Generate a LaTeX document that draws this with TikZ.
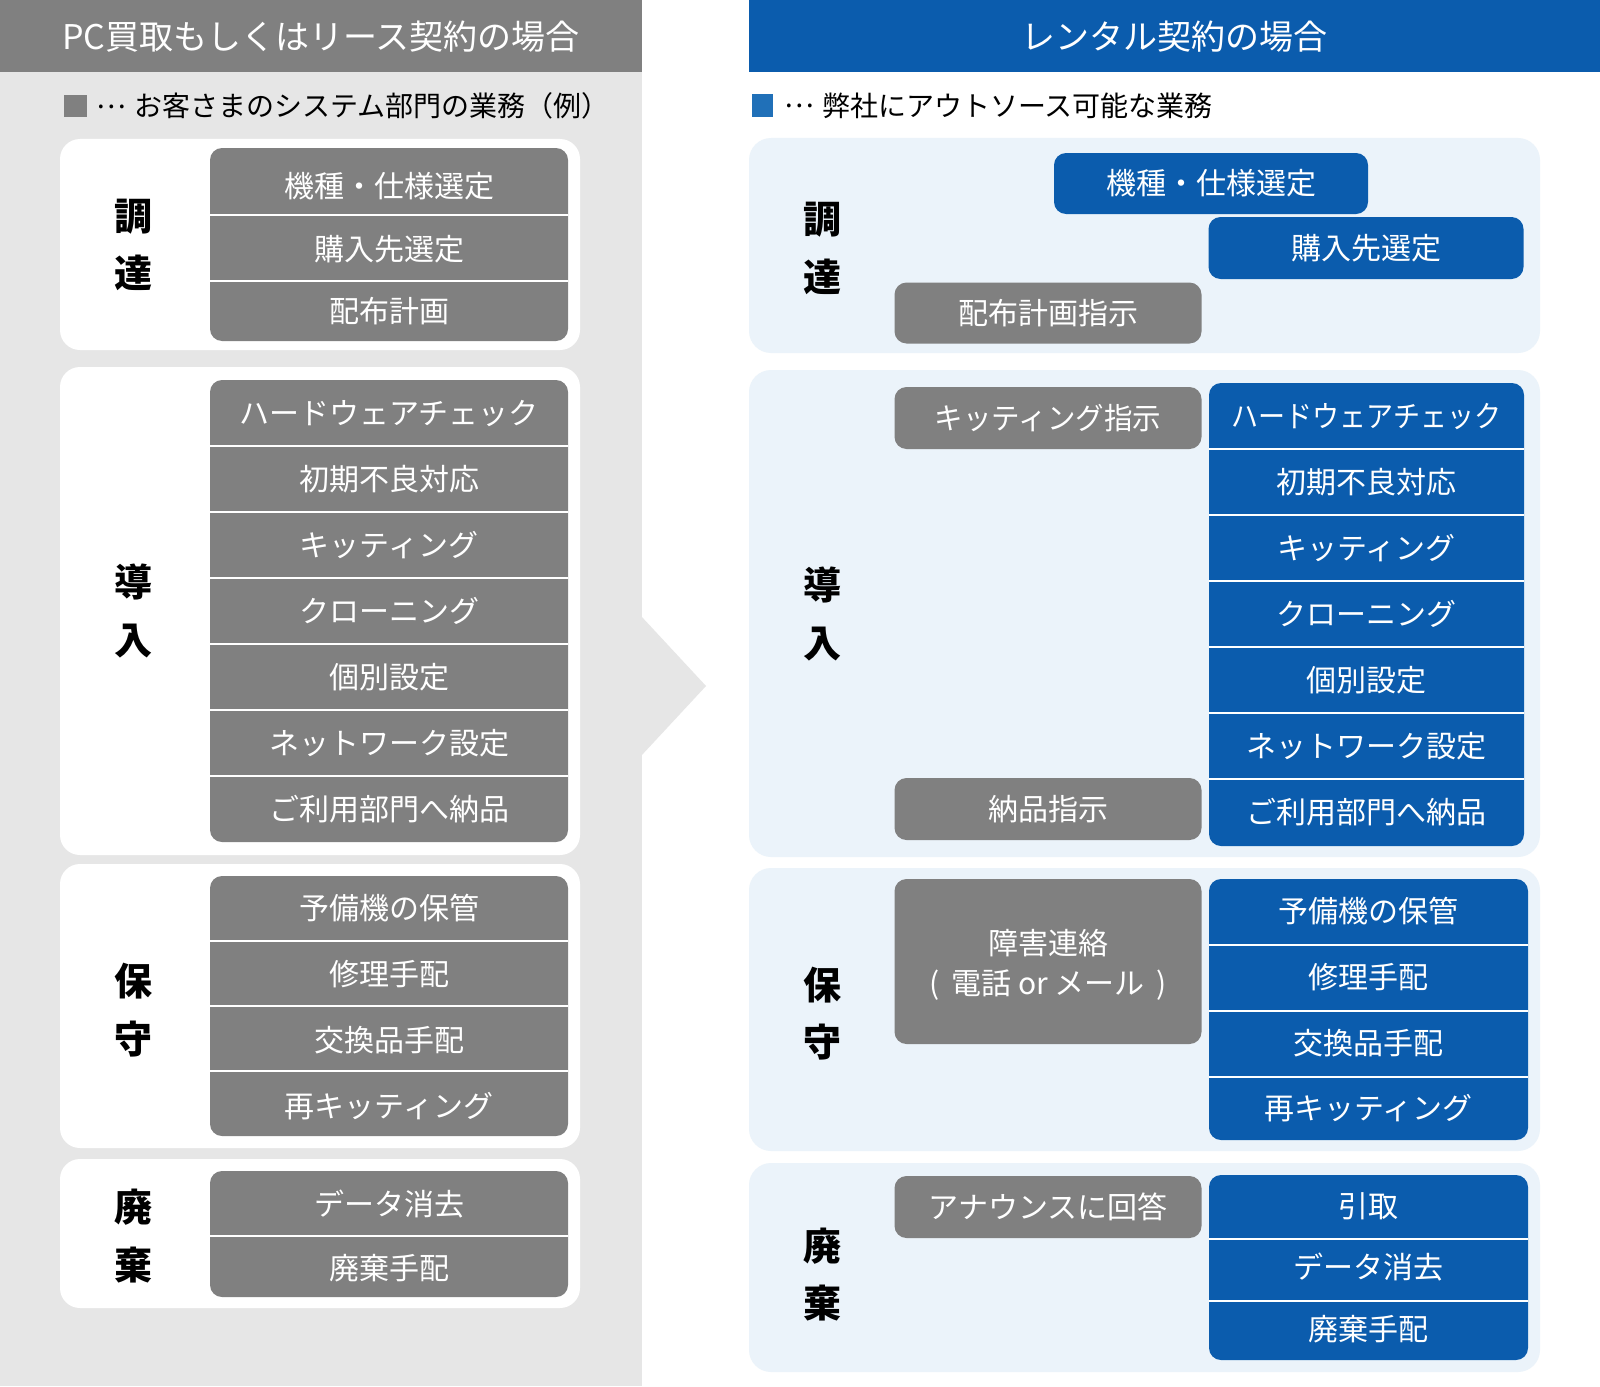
\documentclass[tikz,border=0pt]{standalone}
\usepackage{fontspec}
\usepackage{graphicx}
\setmainfont{Noto Sans CJK JP}
\definecolor{hdrgray}{RGB}{128,128,128}
\definecolor{itemgray}{RGB}{128,128,128}
\definecolor{leftbg}{RGB}{230,230,230}
\definecolor{rblue}{RGB}{11,92,173}
\definecolor{rightbg}{RGB}{235,243,250}
\definecolor{legblue}{RGB}{32,112,184}
\tikzset{
  itemtxt/.style={text=white, font=\fontsize{30}{36}\selectfont, text height=26.4pt, text depth=3.6pt, inner sep=0pt},
  lbl/.style={text=black, font=\fontsize{38}{44}\selectfont\bfseries, text height=33.4pt, text depth=4.6pt, inner sep=0pt},
  hdr/.style={text=white, font=\fontsize{34}{40}\selectfont, text height=29.9pt, text depth=4.1pt, inner sep=0pt},
  legend/.style={text=black, font=\fontsize{28}{32}\selectfont, anchor=west, text height=24.6pt, text depth=3.4pt, inner sep=0pt},
  divider/.style={draw=white, line width=2pt},
  whitebox/.style={fill=white, rounded corners=20pt},
  rbgbox/.style={fill=rightbg, rounded corners=22pt},
  ibox/.style={itemtxt, rounded corners=12pt, minimum width=307pt, minimum height=62pt},
}
% #1 x1, #2 x2, #3 top, #4 bottom, #5 colour, #6 name prefix, #7 list rowtop/textcentre/text
\newcommand{\itemstack}[7]{%
  \fill[#5, rounded corners=12pt] (#1,#3) rectangle (#2,#4);
  \foreach \ya/\yc/\t [count=\i] in {#7} {
    \node[itemtxt] (#6\i) at ({(#1+#2)/2},\yc) {\t};
    \ifnum\i>1 \draw[divider] (#1,\ya) -- (#2,\ya);\fi
  }
}
\newcommand{\legdots}{\raisebox{0.3em}{…}\hspace{0.3em}}
\begin{document}
\begin{tikzpicture}[x=1pt,y=-1pt]
\useasboundingbox (0,0) rectangle (1600,1386);
\fill[white] (0,0) rectangle (1600,1386);
% ---------------- left panel ----------------
\fill[hdrgray] (0,0) rectangle (642,72);
\fill[leftbg] (0,72) rectangle (642,1386);
\fill[leftbg] (641,616) -- (706,686) -- (641,756) -- cycle;
\node[hdr] (lhead) at (321,36.5) {PC買取もしくはリース契約の場合};
\fill[hdrgray] (64,95) rectangle (87,117);
\node[legend] (lleg) at (96,106) {\legdots お客さまのシステム部門の業務（例）};

\fill[whitebox] (60,139) rectangle (580,350);
\fill[whitebox] (60,367) rectangle (580,855);
\fill[whitebox] (60,864) rectangle (580,1148);
\fill[whitebox] (60,1159) rectangle (580,1308);

\itemstack{210}{568}{148}{341}{itemgray}{la}{148/186/機種・仕様選定,215/249/購入先選定,281/311/配布計画}
\itemstack{210}{568}{380}{842}{itemgray}{lb}{380/413/ハードウェアチェック,446/479/初期不良対応,512/545/キッティング,578/611/クローニング,644/677/個別設定,710/743/ネットワーク設定,776/809/ご利用部門へ納品}
\itemstack{210}{568}{876}{1136}{itemgray}{lc}{876/908/予備機の保管,941/974/修理手配,1006/1040/交換品手配,1071/1106/再キッティング}
\itemstack{210}{568}{1171}{1297}{itemgray}{ld}{1171/1204/データ消去,1236/1268/廃棄手配}

\node[lbl] (lp1) at (133,216) {調};
\node[lbl] (lp2) at (133,273) {達};
\node[lbl] (li1) at (133,582) {導};
\node[lbl] (li2) at (133,640) {入};
\node[lbl] (lm1) at (133,981) {保};
\node[lbl] (lm2) at (133,1039) {守};
\node[lbl] (ld1) at (133,1207) {廃};
\node[lbl] (ld2) at (133,1265) {棄};

% ---------------- right panel ----------------
\fill[rblue] (749,0) rectangle (1600,72);
\node[hdr] (rhead) at (1174.5,36.5) {レンタル契約の場合};
\fill[legblue] (752,94) rectangle (773,117);
\node[legend] (rleg) at (784,105.5) {\legdots 弊社にアウトソース可能な業務};

\fill[rbgbox] (749,138) rectangle (1540,353);
\fill[rbgbox] (749,370) rectangle (1540,857);
\fill[rbgbox] (749,868) rectangle (1540,1151);
\fill[rbgbox] (749,1163) rectangle (1540,1372);

% procurement
\node[ibox, fill=rblue, minimum width=314pt, minimum height=61pt] (rsel) at (1211,183.5) {機種・仕様選定};
\node[ibox, fill=rblue, minimum width=315pt] (rbuy) at (1366,248) {購入先選定};
\node[ibox, fill=itemgray, minimum height=61pt] (rplan) at (1048,313) {配布計画指示};

% introduction
\node[ibox, fill=itemgray] (rkit) at (1048,418) {\scalebox{0.95}[1]{キッティング指示}};
\node[ibox, fill=itemgray] (rdel) at (1048,809) {納品指示};
\itemstack{1209}{1524}{383}{846}{rblue}{rb}{383/416/{\scalebox{0.9}[1]{ハードウェアチェック}},449/482/初期不良対応,515/548/キッティング,581/614/クローニング,647/680/個別設定,713/746/ネットワーク設定,779/812/ご利用部門へ納品}

% maintenance
\node[ibox, fill=itemgray, minimum height=165pt] (rfault) at (1048,961.5) {};
\node[itemtxt] (rfault1) at (1048,943) {障害連絡};
\node[itemtxt] (rfault2) at (1048,983) {(\hspace{0.4em}電話 or メール\hspace{0.4em})};
\itemstack{1209}{1528}{879}{1140}{rblue}{rc}{879/911/予備機の保管,945/977/修理手配,1011/1043/交換品手配,1077/1108/再キッティング}

% disposal
\node[ibox, fill=itemgray] (rann) at (1048,1207) {アナウンスに回答};
\itemstack{1209}{1528}{1175}{1360}{rblue}{rd}{1175/1206/引取,1239/1267/データ消去,1301/1329/廃棄手配}

\node[lbl] (rp1) at (822,219) {調};
\node[lbl] (rp2) at (822,277) {達};
\node[lbl] (ri1) at (822,585) {導};
\node[lbl] (ri2) at (822,643) {入};
\node[lbl] (rm1) at (822,985) {保};
\node[lbl] (rm2) at (822,1042) {守};
\node[lbl] (rd1) at (822,1246) {廃};
\node[lbl] (rd2) at (822,1303) {棄};
\end{tikzpicture}
\end{document}
